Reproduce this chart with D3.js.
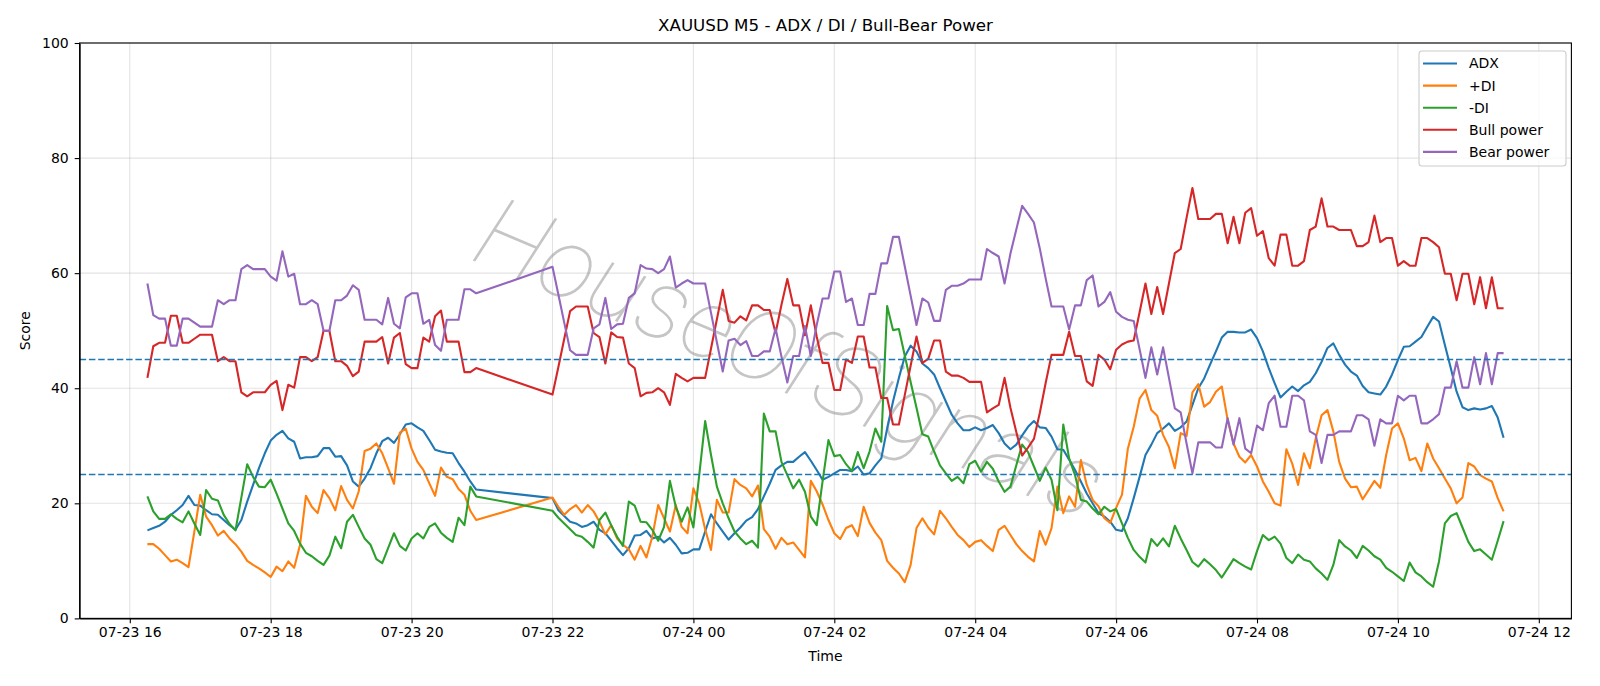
<!DOCTYPE html>
<html>
<head>
<meta charset="utf-8">
<script src="https://cdnjs.cloudflare.com/ajax/libs/d3/7.8.5/d3.min.js"></script>
<style>
  html, body { margin: 0; padding: 0; background: #fff; }
  svg { display: block; font-family: "DejaVu Sans", sans-serif; }
  .axis path, .axis line { stroke: #000; stroke-width: 1.1; }
  .axis text { fill: #000; }
  .grid line { stroke: #b0b0b0; stroke-opacity: 0.35; stroke-width: 1.1; }
</style>
</head>
<body>
<div class="chart"></div>
<script>
// ----- DATA ---------------------------------------------------------
// M5 bars, two sessions (daily break 21:00-22:00)
const sessions = [
    ["2025-07-23T16:15:00Z", "2025-07-23T20:55:00Z"],
    ["2025-07-23T22:00:00Z", "2025-07-24T11:30:00Z"]
];

const adx = [
    15.3, 15.7, 16.1, 16.8, 18.0, 18.8, 19.7, 21.3, 19.7, 19.6, 18.8, 18.1, 18.0, 17.1, 16.2, 15.4, 17.1, 20.3, 23.2, 26.1, 28.7, 30.9, 31.9,
    32.6, 31.3, 30.7, 27.8, 28.0, 28.0, 28.2, 29.6, 29.6, 28.1, 28.2, 26.6, 23.8, 22.9, 24.3, 26.1, 28.7, 30.8, 31.4, 30.5, 32.0, 33.7, 33.9, 33.2,
    32.6, 31.0, 29.3, 29.0, 28.8, 28.7, 27.0, 25.5, 23.8, 22.4,
    20.9, 18.8, 17.8, 16.8, 16.5, 15.9, 16.2, 16.8, 15.4, 14.8, 13.5, 12.2, 11.0, 12.2, 14.4, 14.5, 15.2, 13.9, 14.2, 13.2, 14.0, 12.8, 11.3, 11.4, 12.0,
    12.0, 15.1, 18.1, 16.5, 15.1, 13.7, 14.8, 15.8, 17.0, 17.6, 19.0, 21.2, 23.4, 25.8, 26.6, 27.2, 27.2, 28.1, 28.9, 27.4, 25.8, 24.1, 24.6, 25.2,
    25.8, 25.8, 25.6, 26.4, 25.0, 25.2, 26.6, 27.8, 33.0, 37.7, 41.8, 45.5, 47.4, 46.4, 44.3, 43.5, 42.4, 40.0, 37.7, 35.4, 33.9, 32.7, 32.7, 33.2,
    32.7, 33.1, 33.6, 32.2, 30.4, 29.4, 30.2, 31.8, 33.3, 34.3, 33.2, 33.1, 31.6, 29.4, 29.3, 27.6, 25.8, 23.8, 21.7, 20.0, 18.3, 17.7, 16.8, 15.4,
    15.2, 17.4, 20.9, 24.6, 28.4, 30.2, 32.2, 33.0, 33.9, 32.6, 33.2, 34.2, 37.1, 40.0, 41.7, 44.1, 46.4, 48.8, 49.8, 49.8, 49.7, 49.7, 50.2, 48.7,
    46.4, 43.5, 40.9, 38.4, 39.4, 40.3, 39.5, 40.5, 41.1, 42.6, 44.6, 47.0, 47.8, 45.8, 44.1, 42.9, 42.2, 40.4, 39.3, 39.1, 38.9, 40.3, 42.4,
    44.9, 47.2, 47.3, 48.1, 48.9, 50.7, 52.4, 51.6, 47.5, 43.5, 39.4, 36.7, 36.2, 36.5, 36.3, 36.5, 36.9, 34.9, 31.4
];

const plusDi = [
    12.9, 12.9, 12.1, 11.0, 9.9, 10.2, 9.6, 8.9, 15.1, 21.5, 17.7, 16.2, 14.4, 15.2, 13.9, 12.9, 11.6, 10.0, 9.3, 8.7, 8.0, 7.2, 9.0,
    8.2, 9.9, 8.8, 12.8, 21.3, 19.4, 18.3, 22.3, 20.9, 18.8, 23.0, 20.6, 19.1, 22.1, 29.1, 29.5, 30.4, 28.7, 26.1, 23.4, 32.3, 33.0, 29.5, 27.2,
    25.8, 23.5, 21.3, 26.2, 24.6, 24.2, 22.5, 21.5, 18.7, 17.1,
    21.0, 19.4, 18.0, 19.0, 19.7, 18.4, 19.7, 18.6, 16.8, 14.6, 16.2, 13.9, 12.8, 12.0, 10.2, 12.6, 10.6, 14.2, 19.7, 17.4, 15.1, 19.7, 15.9, 14.8, 22.6,
    20.0, 15.5, 11.9, 20.6, 18.4, 18.4, 24.2, 23.2, 22.6, 21.2, 23.1, 15.5, 14.2, 12.1, 14.0, 12.9, 13.2, 11.9, 10.6, 23.9, 22.1, 19.8, 17.1, 14.8,
    13.8, 15.7, 16.2, 14.3, 19.4, 16.6, 14.9, 13.6, 10.0, 8.8, 7.8, 6.3, 9.3, 15.7, 17.4, 15.8, 14.6, 18.7, 17.4, 15.9, 14.5, 13.6, 12.4, 13.3,
    13.6, 12.6, 11.7, 15.4, 16.1, 14.5, 12.9, 11.7, 10.7, 9.9, 15.2, 12.8, 15.7, 22.9, 18.3, 21.2, 19.4, 27.5, 23.2, 20.6, 19.5, 17.4, 16.6, 19.2,
    21.5, 29.5, 33.3, 38.2, 39.7, 36.2, 35.2, 31.9, 29.8, 26.1, 32.2, 31.7, 39.3, 40.7, 36.8, 37.6, 39.4, 40.3, 34.5, 30.4, 28.1, 27.1, 28.4, 26.4,
    23.8, 22.0, 20.0, 19.6, 29.4, 26.9, 23.2, 28.7, 26.1, 31.3, 35.3, 36.2, 32.5, 27.2, 24.3, 22.8, 22.9, 20.7, 22.3, 23.9, 22.7, 28.4, 33.0,
    33.9, 31.3, 27.5, 27.9, 25.6, 30.4, 27.8, 26.1, 24.3, 22.6, 20.0, 21.0, 27.0, 26.4, 24.9, 24.3, 23.8, 20.9, 18.6
];

const minusDi = [
    21.2, 18.6, 17.3, 17.3, 18.1, 17.3, 16.7, 18.6, 16.5, 14.5, 22.3, 20.8, 20.5, 18.0, 16.4, 15.3, 21.0, 26.8, 24.6, 22.9, 22.8, 24.1, 21.7,
    19.1, 16.5, 15.2, 13.0, 11.4, 10.8, 10.0, 9.3, 10.9, 14.2, 12.2, 16.8, 18.0, 15.9, 13.9, 12.8, 10.3, 9.6, 12.2, 14.8, 12.6, 11.8, 13.9, 14.8,
    13.9, 15.9, 16.5, 14.9, 14.0, 13.3, 17.5, 16.2, 22.9, 21.2,
    18.7, 17.5, 16.5, 15.5, 14.5, 14.2, 13.3, 12.3, 17.1, 18.4, 16.2, 14.2, 12.6, 20.3, 19.6, 16.8, 16.7, 15.4, 13.5, 15.9, 23.9, 19.4, 16.8, 19.3, 15.8,
    25.0, 34.3, 28.4, 22.9, 20.0, 17.4, 15.1, 13.9, 12.9, 13.5, 12.3, 35.6, 32.5, 32.5, 27.2, 24.9, 22.6, 24.1, 22.0, 17.7, 16.2, 23.8, 31.0, 28.2,
    28.4, 26.8, 25.6, 28.9, 26.1, 29.0, 33.0, 30.7, 54.3, 50.1, 50.3, 45.7, 41.1, 36.6, 32.0, 31.6, 29.0, 26.6, 25.2, 23.9, 24.6, 23.5, 26.8, 27.4,
    25.5, 27.2, 26.0, 23.8, 22.0, 22.9, 26.6, 30.2, 28.9, 26.4, 23.9, 26.2, 24.1, 18.8, 33.7, 27.8, 24.9, 20.6, 20.3, 19.1, 18.1, 19.4, 18.6, 19.0,
    16.5, 14.0, 11.9, 10.7, 9.7, 13.8, 12.6, 13.9, 12.5, 16.1, 13.9, 11.9, 9.8, 9.0, 10.3, 9.4, 8.4, 7.1, 8.7, 10.3, 9.6, 9.0, 8.5, 11.7,
    14.5, 13.6, 14.2, 13.0, 10.5, 9.6, 11.1, 10.2, 9.9, 8.7, 7.8, 6.7, 9.3, 13.6, 12.5, 11.8, 10.5, 12.6, 11.8, 10.8, 10.2, 8.8, 8.1,
    7.3, 6.5, 9.7, 8.0, 7.3, 6.3, 5.5, 9.9, 16.5, 17.8, 18.3, 15.8, 13.3, 11.7, 12.0, 11.1, 10.2, 13.5, 16.9
];

const bullPower = [
    41.8, 47.3, 47.9, 47.9, 52.6, 52.6, 47.9, 47.9, 48.6, 49.3, 49.3, 49.3, 44.7, 45.4, 44.7, 44.7, 39.3, 38.6, 39.3, 39.3, 39.3, 40.6, 41.3,
    36.2, 40.6, 40.1, 45.4, 45.4, 44.7, 45.4, 50.0, 50.0, 44.7, 44.7, 43.9, 42.1, 42.9, 48.1, 48.1, 48.1, 48.9, 44.3, 48.8, 49.6, 44.2, 43.5, 43.5,
    48.8, 48.1, 52.5, 53.5, 48.1, 48.1, 48.1, 42.8, 42.8, 43.5,
    38.9, 43.7, 48.6, 53.4, 54.2, 54.2, 54.2, 49.6, 48.9, 44.3, 49.7, 48.9, 48.8, 44.3, 43.5, 38.6, 39.2, 39.3, 40.0, 39.3, 37.1, 42.5, 41.8, 41.2, 41.8,
    41.8, 41.8, 46.9, 52.0, 57.1, 51.7, 51.4, 52.5, 51.8, 54.4, 54.4, 53.6, 53.6, 49.6, 54.5, 59.0, 54.4, 54.4, 49.2, 54.4, 49.0, 44.4, 44.4, 39.7,
    39.7, 45.0, 44.4, 49.0, 49.0, 43.6, 43.6, 38.3, 38.3, 33.7, 33.7, 38.8, 43.9, 49.0, 44.4, 45.1, 48.3, 48.3, 42.9, 42.2, 42.2, 41.8, 41.1, 41.1,
    41.1, 35.8, 36.5, 37.1, 41.8, 36.6, 32.4, 28.3, 29.7, 31.2, 35.7, 40.9, 45.8, 45.8, 45.8, 49.8, 45.6, 45.6, 41.2, 40.4, 45.8, 45.0, 43.3, 46.7,
    47.6, 48.1, 48.3, 53.2, 58.2, 52.9, 57.6, 52.9, 58.2, 63.5, 64.2, 69.6, 74.8, 69.4, 69.4, 69.4, 70.3, 70.3, 65.2, 69.8, 65.2, 70.5, 71.3, 66.5,
    67.3, 62.6, 61.3, 66.7, 66.7, 61.3, 61.3, 62.1, 67.5, 68.1, 73.0, 68.1, 68.1, 67.5, 67.5, 67.5, 64.7, 64.7, 65.4, 70.0, 65.4, 66.1, 66.1,
    61.3, 62.1, 61.3, 61.3, 66.1, 66.1, 65.4, 64.5, 59.9, 59.9, 55.3, 59.9, 59.9, 54.6, 59.3, 53.9, 59.3, 53.9, 53.9
];

const bearPower = [
    58.2, 52.7, 52.1, 52.1, 47.4, 47.4, 52.1, 52.1, 51.4, 50.7, 50.7, 50.7, 55.3, 54.6, 55.3, 55.3, 60.7, 61.4, 60.7, 60.7, 60.7, 59.4, 58.7,
    63.8, 59.4, 59.9, 54.6, 54.6, 55.3, 54.6, 50.0, 50.0, 55.3, 55.3, 56.1, 57.9, 57.1, 51.9, 51.9, 51.9, 51.1, 55.7, 51.2, 50.4, 55.8, 56.5, 56.5,
    51.2, 51.9, 47.5, 46.5, 51.9, 51.9, 51.9, 57.2, 57.2, 56.5,
    61.1, 56.3, 51.4, 46.6, 45.8, 45.8, 45.8, 50.4, 51.1, 55.7, 50.3, 51.1, 51.2, 55.7, 56.5, 61.4, 60.8, 60.7, 60.0, 60.7, 62.9, 57.5, 58.2, 58.8, 58.2,
    58.2, 58.2, 53.1, 48.0, 42.9, 48.3, 48.6, 47.5, 48.2, 45.6, 45.6, 46.4, 46.4, 50.4, 45.5, 41.0, 45.6, 45.6, 50.8, 45.6, 51.0, 55.6, 55.6, 60.3,
    60.3, 55.0, 55.6, 51.0, 51.0, 56.4, 56.4, 61.7, 61.7, 66.3, 66.3, 61.2, 56.1, 51.0, 55.6, 54.9, 51.7, 51.7, 57.1, 57.8, 57.8, 58.2, 58.9, 58.9,
    58.9, 64.2, 63.5, 62.9, 58.2, 63.4, 67.6, 71.7, 70.3, 68.8, 64.3, 59.1, 54.2, 54.2, 54.2, 50.2, 54.4, 54.4, 58.8, 59.6, 54.2, 55.0, 56.7, 53.3,
    52.4, 51.9, 51.7, 46.8, 41.8, 47.1, 42.4, 47.1, 41.8, 36.5, 35.8, 30.4, 25.2, 30.6, 30.6, 30.6, 29.7, 29.7, 34.8, 30.2, 34.8, 29.5, 28.7, 33.5,
    32.7, 37.4, 38.7, 33.3, 33.3, 38.7, 38.7, 37.9, 32.5, 31.9, 27.0, 31.9, 31.9, 32.5, 32.5, 32.5, 35.3, 35.3, 34.6, 30.0, 34.6, 33.9, 33.9,
    38.7, 37.9, 38.7, 38.7, 33.9, 33.9, 34.6, 35.5, 40.1, 40.1, 44.7, 40.1, 40.1, 45.4, 40.7, 46.1, 40.7, 46.1, 46.1
];

const seriesNames  = ["ADX", "+DI", "-DI", "Bull power", "Bear power"];
const seriesColors = ["#1f77b4", "#ff7f0e", "#2ca02c", "#d62728", "#9467bd"];
const thresholds   = [45, 25];
const yTicks       = [0, 20, 40, 60, 80, 100];

// ----- BUILD ----------------------------------------------------------
const times = [];
sessions.forEach(([start, end]) => {
    for (let t = new Date(start); t <= new Date(end); t = new Date(+t + 5 * 60000)) {
        times.push(t);
    }
});

const seriesValues = [adx, plusDi, minusDi, bullPower, bearPower];
const series = seriesNames.map((name, k) => ({
    name: name,
    color: seriesColors[k],
    points: seriesValues[k].map((v, i) => ({ t: times[i], v: v }))
}));

const width = 1600, height = 686;
const margin = { top: 43, right: 28.6, bottom: 67.6, left: 79.6 };
const innerWidth = width - margin.left - margin.right;
const innerHeight = height - margin.top - margin.bottom;

const svg = d3.select(".chart").append("svg")
    .attr("width", width)
    .attr("height", height);

const chart = svg.append("g")
    .attr("transform", "translate(" + margin.left + "," + margin.top + ")");

// x range padded 5% like matplotlib
const tExtent = d3.extent(times);
const tPad = (tExtent[1] - tExtent[0]) * 0.05;
const x = d3.scaleUtc()
    .domain([new Date(+tExtent[0] - tPad), new Date(+tExtent[1] + tPad)])
    .range([0, innerWidth]);

const y = d3.scaleLinear()
    .domain([0, 100])
    .range([innerHeight, 0]);

const xTicks = x.ticks(d3.utcHour.every(2));

// grid
const grid = chart.append("g").classed("grid", true);
grid.selectAll(".gx")
    .data(xTicks)
    .enter().append("line")
    .attr("x1", d => x(d)).attr("x2", d => x(d))
    .attr("y1", 0).attr("y2", innerHeight);
grid.selectAll(".gy")
    .data(yTicks)
    .enter().append("line")
    .attr("x1", 0).attr("x2", innerWidth)
    .attr("y1", d => y(d)).attr("y2", d => y(d));

// watermark (thin handwritten-looking text)
chart.append("text")
    .attr("transform", "translate(" + (x(new Date("2025-07-24T01:20:00Z"))) + "," + y(44) + ") rotate(23)")
    .attr("text-anchor", "middle")
    .attr("dominant-baseline", "middle")
    .attr("font-family", "Roboto")
    .attr("font-weight", 100)
    .attr("font-style", "italic")
    .attr("font-size", 100)
    .attr("fill", "#8c8c8c")
    .attr("fill-opacity", 0.5)
    .text("HouseOfSignals");

// lines
const line = d3.line()
    .x(d => x(d.t))
    .y(d => y(d.v));

chart.selectAll(".series")
    .data(series)
    .enter().append("path")
    .attr("fill", "none")
    .attr("stroke", d => d.color)
    .attr("stroke-width", 2.1)
    .attr("stroke-linejoin", "round")
    .attr("d", d => line(d.points));

// threshold levels
chart.selectAll(".level")
    .data(thresholds)
    .enter().append("line")
    .attr("x1", 0).attr("x2", innerWidth)
    .attr("y1", d => y(d)).attr("y2", d => y(d))
    .attr("stroke", "#1f77b4")
    .attr("stroke-width", 1.4)
    .attr("stroke-dasharray", "6.5,2.8");

// axes
chart.append("g")
    .classed("axis", true)
    .attr("transform", "translate(0," + innerHeight + ")")
    .call(d3.axisBottom(x)
        .tickValues(xTicks)
        .tickFormat(d3.utcFormat("%m-%d %H"))
        .tickSize(4.9)
        .tickPadding(4)
        .tickSizeOuter(0))
    .attr("font-size", 14)
    .attr("font-family", "DejaVu Sans");

chart.append("g")
    .classed("axis", true)
    .call(d3.axisLeft(y)
        .tickValues(yTicks)
        .tickSize(4.9)
        .tickPadding(6)
        .tickSizeOuter(0))
    .attr("font-size", 14)
    .attr("font-family", "DejaVu Sans");

// frame
chart.append("rect")
    .attr("width", innerWidth)
    .attr("height", innerHeight)
    .attr("fill", "none")
    .attr("stroke", "#000")
    .attr("stroke-width", 1.1);

// labels
svg.append("text")
    .attr("x", margin.left + innerWidth / 2)
    .attr("y", 31)
    .attr("text-anchor", "middle")
    .attr("font-size", 16.7)
    .text("XAUUSD M5 - ADX / DI / Bull-Bear Power");

svg.append("text")
    .attr("x", margin.left + innerWidth / 2)
    .attr("y", 661)
    .attr("text-anchor", "middle")
    .attr("font-size", 14)
    .text("Time");

svg.append("text")
    .attr("transform", "translate(30," + (margin.top + innerHeight / 2) + ") rotate(-90)")
    .attr("text-anchor", "middle")
    .attr("font-size", 14)
    .text("Score");

// legend
const legend = svg.append("g")
    .attr("transform", "translate(1419,51)");

legend.append("rect")
    .attr("width", 147)
    .attr("height", 115)
    .attr("rx", 3)
    .attr("fill", "#fff")
    .attr("fill-opacity", 0.8)
    .attr("stroke", "#cccccc")
    .attr("stroke-width", 1.1);

const entry = legend.selectAll(".entry")
    .data(series)
    .enter().append("g")
    .attr("transform", (d, i) => "translate(0," + (12.5 + i * 22.1) + ")");

entry.append("line")
    .attr("x1", 4).attr("x2", 38)
    .attr("stroke", d => d.color)
    .attr("stroke-width", 2.1);

entry.append("text")
    .attr("x", 50)
    .attr("dy", "0.35em")
    .attr("font-size", 14)
    .text(d => d.name);
</script>
</body>
</html>
